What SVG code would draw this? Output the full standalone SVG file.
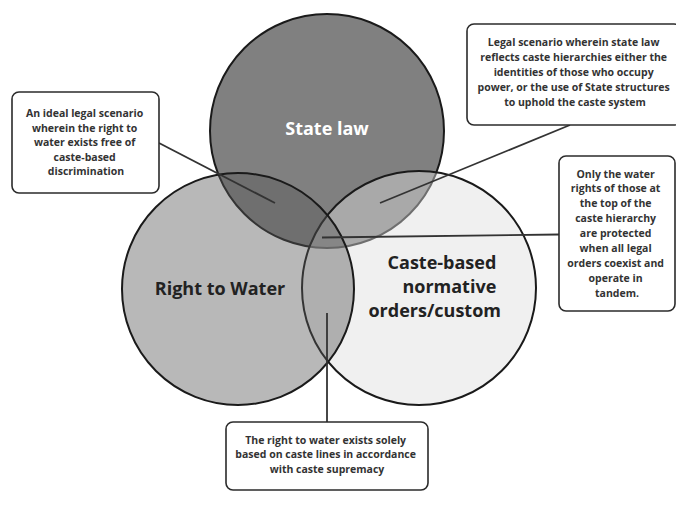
<svg xmlns="http://www.w3.org/2000/svg" width="676" height="508" viewBox="0 0 676 508">
  <style>
    .circ { stroke: #1a1a1a; stroke-width: 2; }
    .box { fill: #ffffff; stroke: #2b2b2b; stroke-width: 1.6; }
    .bt { font-family: "Open Sans", "Liberation Sans", sans-serif; font-weight: bold; font-size: 10.5px; fill: #333333; text-anchor: middle; }
    .big { font-family: "Open Sans", "Liberation Sans", sans-serif; font-weight: bold; font-size: 18px; }
    .conn line { stroke: #333333; stroke-width: 1.8; }
  </style>
  <rect width="676" height="508" fill="#ffffff"/>
  <g id="state-law">
    <circle class="circ" cx="327" cy="131" r="117" fill="#808080"/>
  </g>
  <g id="caste-based">
    <circle class="circ" cx="419" cy="288" r="117" fill="rgb(221,221,221)" fill-opacity="0.44"/>
  </g>
  <g id="right-to-water">
    <circle class="circ" cx="238" cy="289" r="116" fill="rgb(88,88,88)" fill-opacity="0.425"/>
  </g>
  <g id="circle-labels">
    <text class="big" x="327" y="135" fill="#ffffff" text-anchor="middle">State law</text>
    <text class="big" x="220" y="295" fill="#222222" text-anchor="middle">Right to Water</text>
    <text class="big" fill="#222222" text-anchor="end">
      <tspan x="501" y="269">Caste-based</tspan>
      <tspan x="501" y="293">normative</tspan>
      <tspan x="501" y="317">orders/custom</tspan>
    </text>
  </g>
  <g id="connectors" class="conn">
    <line x1="159" y1="143" x2="275" y2="203"/>
    <line x1="570" y1="125" x2="380" y2="203"/>
    <line x1="559" y1="234.5" x2="322" y2="237.5"/>
    <line x1="327" y1="313" x2="327" y2="422"/>
  </g>
  <g id="note-ideal">
    <rect class="box" x="12" y="92" width="147" height="101" rx="7"/>
    <text class="bt">
      <tspan x="86" y="117">An ideal legal scenario</tspan>
      <tspan x="86" y="131.6">wherein the right to</tspan>
      <tspan x="86" y="146.2">water exists free of</tspan>
      <tspan x="86" y="160.8">caste-based</tspan>
      <tspan x="86" y="175.4">discrimination</tspan>
    </text>
  </g>
  <g id="note-state">
    <rect class="box" x="467" y="24" width="214" height="101" rx="7"/>
    <text class="bt">
      <tspan x="575" y="46">Legal scenario wherein state law</tspan>
      <tspan x="575" y="61">reflects caste hierarchies either the</tspan>
      <tspan x="575" y="76">identities of those who occupy</tspan>
      <tspan x="575" y="91">power, or the use of State structures</tspan>
      <tspan x="575" y="106">to uphold the caste system</tspan>
    </text>
  </g>
  <g id="note-all">
    <rect class="box" x="559" y="156" width="116" height="155" rx="7"/>
    <text class="bt">
      <tspan x="617" y="177.5">Only the water</tspan>
      <tspan x="617" y="192.4">rights of those at</tspan>
      <tspan x="617" y="207.3">the top of the</tspan>
      <tspan x="617" y="222.2">caste hierarchy</tspan>
      <tspan x="617" y="237.1">are protected</tspan>
      <tspan x="617" y="252">when all legal</tspan>
      <tspan x="617" y="266.9">orders coexist and</tspan>
      <tspan x="617" y="281.8">operate in</tspan>
      <tspan x="617" y="296.7">tandem.</tspan>
    </text>
  </g>
  <g id="note-caste">
    <rect class="box" x="226" y="422" width="202" height="68" rx="7"/>
    <text class="bt">
      <tspan x="327" y="443.5">The right to water exists solely</tspan>
      <tspan x="327" y="458.2">based on caste lines in accordance</tspan>
      <tspan x="327" y="472.9">with caste supremacy</tspan>
    </text>
  </g>
</svg>
